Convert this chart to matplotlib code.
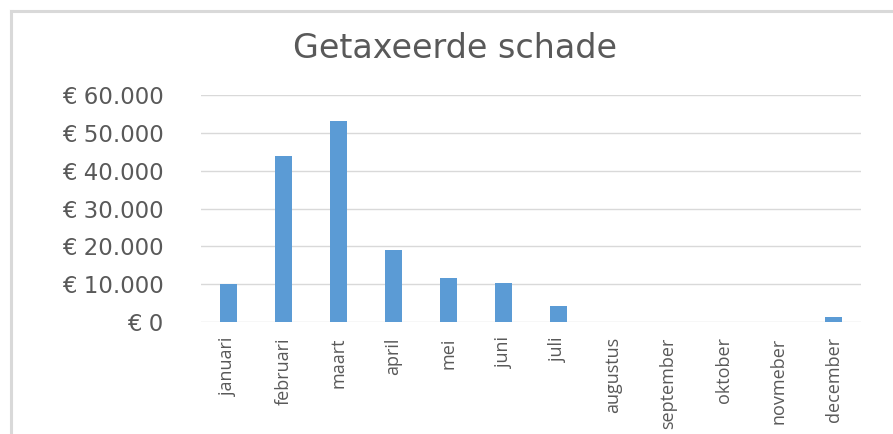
import matplotlib.pyplot as plt
from matplotlib.lines import Line2D

months = ["januari", "februari", "maart", "april", "mei", "juni", "juli",
          "augustus", "september", "oktober", "novmeber", "december"]
schade = [10000, 44000, 53200, 19000, 11500, 10200, 4200, 0, 0, 0, 0, 1200]
y_ticks = [0, 10000, 20000, 30000, 40000, 50000, 60000]

plt.rcParams["font.family"] = ["DejaVu Sans"]
text_color = "#595959"
W, H = 893, 434

fig = plt.figure(figsize=(W / 100, H / 100), dpi=100)
# chart frame: only the top and left edges are visible in the crop
border = dict(transform=fig.transFigure, color="#d9d9d9", linewidth=2.2)
fig.lines.append(Line2D([10.5 / W, 1.0], [1 - 11 / H, 1 - 11 / H], **border))
fig.lines.append(Line2D([10.5 / W, 10.5 / W], [0.0, 1 - 11 / H], **border))

ax = fig.add_axes([201 / W, 1 - 322 / H, 660 / W, 227 / H])
x = range(len(months))
ax.bar(x, schade, width=0.31, color="#5B9BD5")
ax.set_xlim(-0.5, len(months) - 0.5)
ax.set_ylim(0, 60000)
ax.set_yticks(y_ticks)
ax.set_yticklabels(["€ 0" if v == 0 else "€ " + f"{v:,}".replace(",", ".") for v in y_ticks])
ax.set_xticks(list(x))
ax.set_xticklabels(months, rotation=90, va="top", ha="center",
                   family=["Open Sans", "DejaVu Sans"])
ax.tick_params(axis="y", length=0, pad=27, labelsize=16.5, labelcolor=text_color)
ax.tick_params(axis="x", length=0, pad=11, labelsize=13, labelcolor=text_color)
ax.grid(axis="y", color="#d9d9d9", linewidth=1)
ax.set_axisbelow(True)
for s in ax.spines.values():
    s.set_visible(False)

fig.text(455 / W, 1 - 48 / H, "Getaxeerde schade", ha="center", va="center",
         fontsize=24, color=text_color)

fig.savefig("out.png", dpi=100)
